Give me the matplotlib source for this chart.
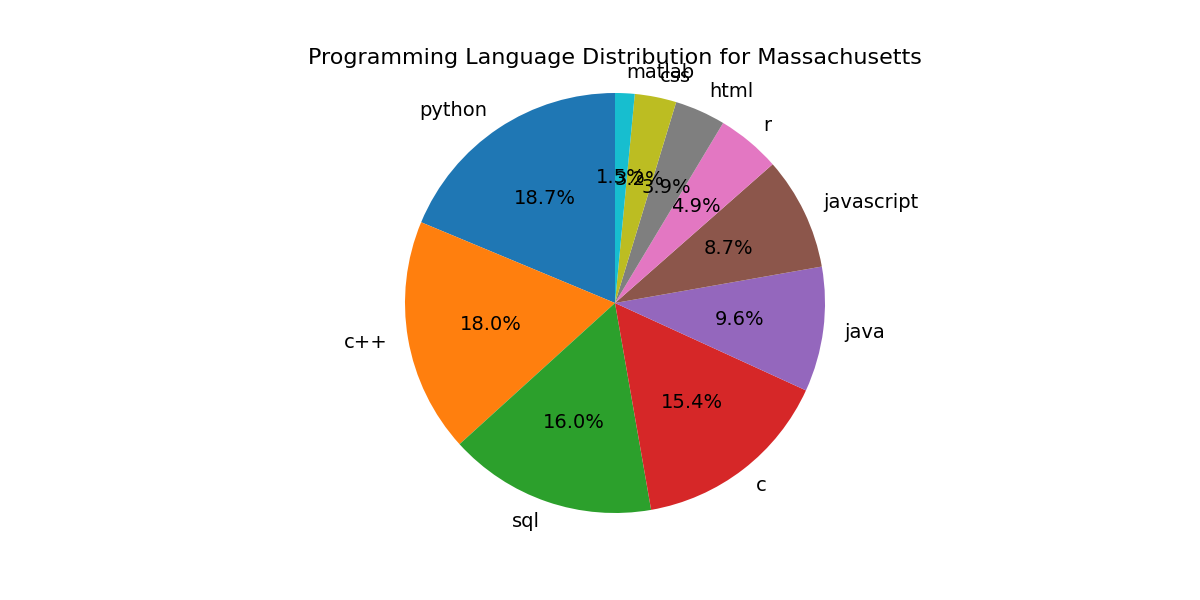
import matplotlib
matplotlib.use('Agg')
import matplotlib.pyplot as plt

languages = ['python', 'c++', 'sql', 'c', 'java', 'javascript', 'r', 'html', 'css', 'matlab']
shares = [18.7, 18.0, 16.0, 15.4, 9.6, 8.7, 4.9, 3.9, 3.2, 1.5]

fig, ax = plt.subplots(figsize=(12, 6), dpi=100)
ax.pie(shares, labels=languages, autopct='%1.1f%%', startangle=90,
       textprops={'fontsize': 14})
ax.axis('equal')
ax.set_title('Programming Language Distribution for Massachusetts', fontsize=16)
plt.savefig('out.png')
